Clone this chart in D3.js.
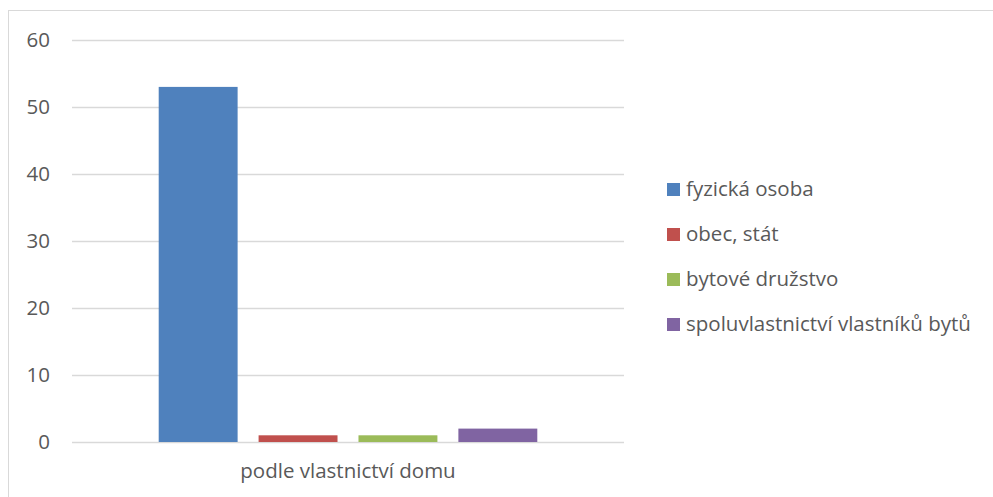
<!DOCTYPE html>
<html>
<head>
<meta charset="utf-8">
<script src="https://cdn.jsdelivr.net/npm/d3@7"></script>
<style>
  body { margin: 0; background: #fff; }
  text { font-family: "Open Sans", "Noto Sans", sans-serif; fill: #595959; }
</style>
</head>
<body>
<div id="chart"></div>
<script>
// data
var categories = ["podle vlastnictví domu"];
var seriesNames = ["fyzická osoba", "obec, stát", "bytové družstvo", "spoluvlastnictví vlastníků bytů"];
var seriesValues = [53, 1, 1, 2];
var seriesColors = ["#4f81bd", "#c0504d", "#9bbb59", "#8064a2"];
var yTicks = [0, 10, 20, 30, 40, 50, 60];

var W = 993, H = 497;
var plot = { left: 72, right: 624, top: 40, bottom: 442 };
var fontSize = "20.5px";

var svg = d3.select("#chart").append("svg")
  .attr("width", W)
  .attr("height", H);

// outer frame of the chart
svg.append("rect")
  .attr("x", 8.5)
  .attr("y", 10.5)
  .attr("width", W + 10)
  .attr("height", H + 10)
  .attr("fill", "none")
  .attr("stroke", "#d9d9d9")
  .attr("stroke-width", 1);

var y = d3.scaleLinear().domain([0, 60]).range([plot.bottom, plot.top]);

var x0 = d3.scaleBand()
  .domain(categories)
  .range([plot.left, plot.right])
  .paddingInner(0)
  .paddingOuter(0.229);

var x1 = d3.scaleBand()
  .domain(seriesNames)
  .range([0, x0.bandwidth()])
  .paddingInner(0.21)
  .paddingOuter(0);

// gridlines
svg.append("g")
  .selectAll("line")
  .data(yTicks)
  .join("line")
  .attr("x1", plot.left)
  .attr("x2", plot.right)
  .attr("y1", function(d){ return Math.round(y(d)) + 0.5; })
  .attr("y2", function(d){ return Math.round(y(d)) + 0.5; })
  .attr("stroke", "#d9d9d9")
  .attr("stroke-width", 1.3);

// y axis labels
var yAxis = d3.axisLeft(y).tickValues(yTicks).tickSize(0).tickPadding(22);
var gy = svg.append("g")
  .attr("transform", "translate(" + plot.left + ",0)")
  .call(yAxis);
gy.select(".domain").remove();
gy.selectAll("text")
  .style("font-size", fontSize)
  .attr("fill", "#595959");

// bars
var group = svg.append("g")
  .selectAll("g")
  .data(categories)
  .join("g")
  .attr("transform", function(d){ return "translate(" + x0(d) + ",0)"; });

group.selectAll("rect")
  .data(function(){ return seriesNames.map(function(n, i){ return { name: n, value: seriesValues[i], color: seriesColors[i] }; }); })
  .join("rect")
  .attr("x", function(d){ return x1(d.name); })
  .attr("y", function(d){ return y(d.value); })
  .attr("width", x1.bandwidth())
  .attr("height", function(d){ return y(0) - y(d.value); })
  .attr("fill", function(d){ return d.color; });

// x axis label
var xAxis = d3.axisBottom(x0).tickSize(0).tickPadding(21);
var gx = svg.append("g")
  .attr("transform", "translate(0," + plot.bottom + ")")
  .call(xAxis);
gx.select(".domain").remove();
gx.selectAll("text")
  .style("font-size", fontSize)
  .attr("fill", "#595959");

// legend
var legend = svg.append("g")
  .attr("transform", "translate(667,189)");

var items = legend.selectAll("g")
  .data(seriesNames)
  .join("g")
  .attr("transform", function(d, i){ return "translate(0," + (i * 45) + ")"; });

items.append("rect")
  .attr("x", 0)
  .attr("y", -6)
  .attr("width", 13)
  .attr("height", 13)
  .attr("fill", function(d, i){ return seriesColors[i]; });

items.append("text")
  .attr("x", 19)
  .attr("y", 0)
  .attr("dy", "0.35em")
  .style("font-size", fontSize)
  .text(function(d){ return d; });
</script>
</body>
</html>
